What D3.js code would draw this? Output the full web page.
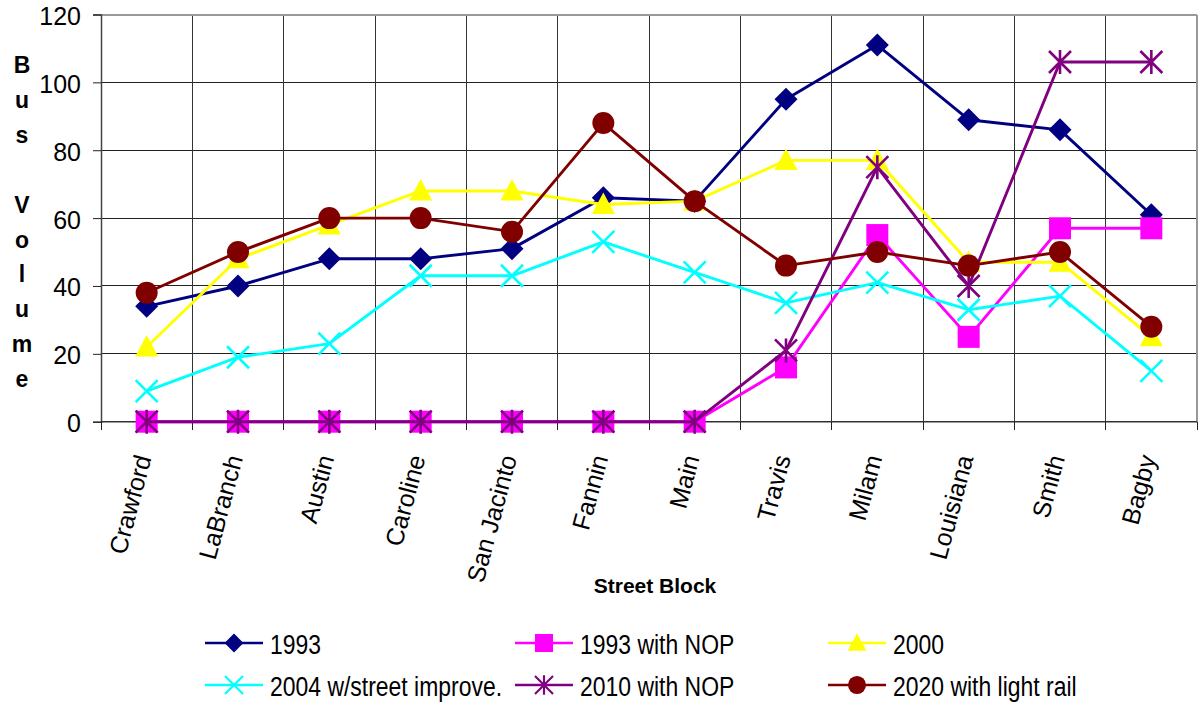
<!DOCTYPE html>
<html><head><meta charset="utf-8">
<script src="https://cdn.jsdelivr.net/npm/d3@7"></script>
<style>body{margin:0;background:#fff} svg{display:block;font-family:"Liberation Sans",Arial,Helvetica,sans-serif}</style>
</head><body><svg id="c" width="1199" height="704"></svg>
<script>
const categories = ["Crawford","LaBranch","Austin","Caroline","San Jacinto","Fannin","Main","Travis","Milam","Louisiana","Smith","Bagby"];
const s1993    = [34,40,48,48,51,66,65,95,111,89,86,61];
const s1993NOP = [0,0,0,0,0,0,0,16,55,25,57,57];
const s2000    = [22,48,58,68,68,64,65,77,77,47,47,25];
const s2004    = [9,19,23,43,43,53,44,35,41,33,37,15];
const s2010NOP = [0,0,0,0,0,0,0,21,75,40,106,106];
const s2020    = [38,50,60,60,56,88,65,46,50,46,50,28];
const seriesNames = ["1993","1993 with NOP","2000","2004 w/street improve.","2010 with NOP","2020 with light rail"];
const yTicks = [0,20,40,60,80,100,120];
const yTitle = "Bus Volume";
const xTitle = "Street Block";

const seriesValues = [s1993,s1993NOP,s2000,s2004,s2010NOP,s2020];
const styles = [
  {color:"#000080", marker:"diamond"},
  {color:"#FF00FF", marker:"square"},
  {color:"#FFFF00", marker:"triangle"},
  {color:"#00FFFF", marker:"cross"},
  {color:"#800080", marker:"star"},
  {color:"#800000", marker:"circle"}
];

const svg = d3.select("#c");
const L = 101, R = 1197, T = 14.5, B = 421.7;
const x = d3.scaleBand().domain(categories).range([L,R]).paddingInner(0).paddingOuter(0);
const bw = x.bandwidth();
const cx = c => x(c) + bw/2;
const y = d3.scaleLinear().domain([0,120]).range([B,T]);

// gridlines
const g = svg.append("g").attr("shape-rendering","crispEdges");
g.selectAll("line.h").data(yTicks.filter(v=>v>0 && v<120)).join("line")
  .attr("x1",L).attr("x2",R).attr("y1",d=>y(d)).attr("y2",d=>y(d))
  .attr("stroke","#222").attr("stroke-width",1);
g.selectAll("line.v").data(categories.slice(1)).join("line")
  .attr("x1",d=>x(d)).attr("x2",d=>x(d)).attr("y1",T).attr("y2",B)
  .attr("stroke","#333").attr("stroke-width",1);
// border
g.append("line").attr("x1",L).attr("x2",R).attr("y1",T).attr("y2",T).attr("stroke","#999").attr("stroke-width",2);
g.append("line").attr("x1",R).attr("x2",R).attr("y1",T).attr("y2",B).attr("stroke","#999").attr("stroke-width",2);

// y axis
const ya = svg.append("g").attr("transform",`translate(${L},0)`)
  .call(d3.axisLeft(y).tickValues(yTicks).tickSize(8).tickPadding(12));
ya.select(".domain").attr("stroke","#444").attr("stroke-width",1.5);
ya.selectAll(".tick line").attr("stroke","#222");
ya.selectAll(".tick text").attr("font-size",25).attr("font-family",'"Liberation Sans",Arial,sans-serif').attr("fill","#000").attr("dy","0.40em");

// x axis line and boundary ticks
const bounds = categories.map(c=>x(c)).concat([R]);
svg.append("line").attr("x1",L).attr("x2",R).attr("y1",B).attr("y2",B).attr("stroke","#333").attr("stroke-width",1.5);
svg.append("g").attr("shape-rendering","crispEdges").selectAll("line").data(bounds).join("line")
  .attr("x1",d=>d).attr("x2",d=>d).attr("y1",B).attr("y2",B+8).attr("stroke","#222");
svg.append("g").selectAll("text").data(categories).join("text")
  .attr("transform",d=>`translate(${cx(d)+5},${B+36}) rotate(-75)`)
  .attr("text-anchor","end").attr("font-size",25).text(d=>d);

// axis titles
svg.append("text").attr("x",655).attr("y",593).attr("text-anchor","middle")
  .attr("font-size",21).attr("font-weight","bold").text(xTitle);
const yt = svg.append("text").attr("text-anchor","middle").attr("font-size",23).attr("font-weight","bold");
yTitle.split("").forEach((ch,i)=>{
  yt.append("tspan").attr("x",22).attr("y",73+i*34.9).text(ch===" "?"\u00a0":ch);
});

// markers
function marker(sel, type, color, px, py, k){
  k = k || 1;
  const s = sel.append("g").attr("transform",`translate(${px},${py}) scale(${k})`);
  if(type==="diamond"){
    s.append("path").attr("d","M0,-11.5L11.5,0L0,11.5L-11.5,0Z").attr("fill",color);
  } else if(type==="square"){
    s.append("rect").attr("x",-11).attr("y",-11).attr("width",22).attr("height",22).attr("fill",color);
  } else if(type==="triangle"){
    s.append("path").attr("d","M0,-12L11.5,9.5L-11.5,9.5Z").attr("fill",color);
  } else if(type==="circle"){
    s.append("circle").attr("r",11).attr("fill",color);
  } else if(type==="cross"){
    s.append("path").attr("d","M-11,-11L11,11M-11,11L11,-11").attr("stroke",color).attr("stroke-width",2.6).attr("fill","none");
  } else if(type==="star"){
    s.append("path").attr("d","M-11,-11L11,11M-11,11L11,-11M0,-12L0,12").attr("stroke",color).attr("stroke-width",2.6).attr("fill","none");
  }
}

const line = d3.line().x((d,i)=>cx(categories[i])).y(d=>y(d));
seriesValues.forEach((vals,k)=>{
  const st = styles[k];
  const sg = svg.append("g");
  sg.append("path").attr("d",line(vals)).attr("fill","none").attr("stroke",st.color).attr("stroke-width",2.9).attr("stroke-linejoin","round");
  vals.forEach((v,i)=>marker(sg, st.marker, st.color, cx(categories[i]), y(v)));
});

// legend
const colX = [205,515,828], rowY = [643,685];
seriesNames.forEach((name,k)=>{
  const st = styles[k];
  const lx = colX[k%3], ly = rowY[Math.floor(k/3)];
  const lg = svg.append("g");
  lg.append("line").attr("x1",lx).attr("x2",lx+58).attr("y1",ly).attr("y2",ly).attr("stroke",st.color).attr("stroke-width",2.6);
  marker(lg, st.marker, st.color, lx+29, ly, 0.82);
  lg.append("text").attr("transform",`translate(${lx+65},${ly+11}) scale(0.85,1)`)
    .attr("font-size",27).text(name);
});
</script></body></html>
